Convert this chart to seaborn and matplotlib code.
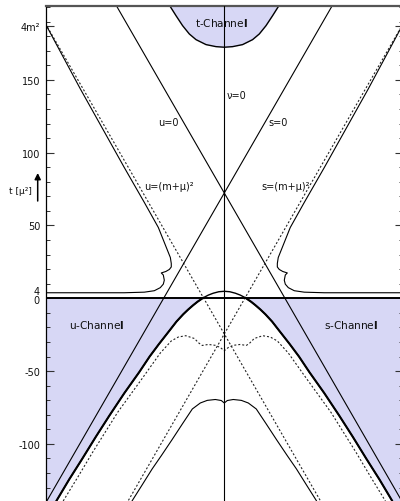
import numpy as np
import matplotlib
matplotlib.use("Agg")
import matplotlib.pyplot as plt
from matplotlib.patches import Rectangle
from matplotlib.ticker import MultipleLocator
import seaborn as sns

sns.set_theme(style="white")
plt.rcParams["font.family"] = ["DejaVu Sans"]
plt.rcParams["mathtext.fontset"] = "dejavusans"

# Mandelstam plane of pion-nucleon scattering: nu = s - u across, t upwards (in mu^2).
# The picture is symmetric under nu -> -nu (s <-> u), so curves are listed for nu >= 0.
NU_MAX = 212.5
T_MIN, T_MAX = -139.2, 200.5

# straight lines: u = 0 and u = (m+mu)^2 (s-lines are their mirror images)
u_zero_nu = [-128.2, 211.5]
u_zero_t = [200.5, -139.2]
u_thr_nu = [-225.0, 114.7]
u_thr_t = [200.5, -139.2]

# t-channel physical region boundary
tch_nu = [0, 9.9, 21.8, 33.7, 41.7, 49.7, 57.6, 64.6]
tch_t = [172.4, 172.8, 174.2, 177.6, 181.5, 187.2, 194.1, 200.5]

# s-channel physical region boundary
sch_nu = [0, 6.5, 13.1, 19.0, 25.0, 32.0, 37.0, 43.0, 49.0, 57.0, 65.5, 78.0, 89.0,
          101.5, 119.0, 137.0, 153.0, 169.5, 185.0, 200.2]
sch_t = [4.8, 4.5, 3.5, 2.2, 0.4, -2.4, -4.7, -7.7, -11.0, -16.0, -22.3, -31.5, -40.0,
         -50.8, -65.0, -80.6, -95.0, -110.4, -124.5, -139.2]

# dashed boundary below the s/u physical regions
dsh_nu = [0, 4.8, 10.7, 19.1, 26.2, 30.4, 35.7, 45.9, 54.8, 63.2, 76.3, 98.3, 127.1,
          157.0, 174.5, 192.0]
dsh_t = [-36.0, -33.8, -32.3, -31.7, -32.4, -30.7, -27.6, -25.7, -26.6, -29.3, -37.6, -55.4,
         -78.3, -105.8, -122.7, -139.2]

# lower spectral boundary
low_nu = [0, 3.6, 10.7, 20.3, 28.6, 38.1, 50.0, 62.5, 75.1, 86.0, 98.5, 110.0]
low_t = [-71.9, -70.2, -69.5, -70.1, -71.9, -76.0, -86.3, -97.3, -108.1, -117.2, -128.7, -139.2]

# upper spectral boundary (s-t double spectral region)
up_nu = [212.5, 171.6, 119.2, 95.3, 78.6, 69.1, 64.3, 63.2, 63.2, 65.5, 69.7, 75.1, 72.7, 71.5,
         72.7, 76.3, 83.4, 95.3, 119.2, 166.8, 212.5]
up_t = [187.7, 143.8, 89.8, 65.8, 48.6, 34.9, 28.0, 23.9, 21.5, 19.8, 18.4, 17.4, 16.0, 12.4,
        9.7, 7.3, 5.2, 4.2, 3.8, 3.8, 3.8]

tick_vals = [-100, -50, 50, 100, 150, 187.2]
tick_text = ["-100", "-50", "50", "100", "150", "4m²"]

FILL = "#d7d7f5"
INK = "black"

fig = plt.figure(figsize=(4.0, 5.02), dpi=100)
ax = fig.add_axes([46 / 400, 0.0, 356.6 / 400, (502 - 7.3) / 502])
ax.set_xlim(-NU_MAX, NU_MAX)
ax.set_ylim(T_MIN, T_MAX)


def both_sides(nu, t):
    nu = np.asarray(nu, float)
    t = np.asarray(t, float)
    return np.concatenate([-nu[::-1], nu[1:]]), np.concatenate([t[::-1], t[1:]])


def draw(nu, t, **kw):
    sns.lineplot(x=nu, y=t, sort=False, estimator=None, ax=ax, legend=False, **kw)


# shaded physical regions
tn, tt = both_sides(tch_nu, tch_t)
ax.fill_between(tn, tt, T_MAX, color=FILL, lw=0, zorder=0)
below = Rectangle((-NU_MAX, T_MIN), 2 * NU_MAX, -T_MIN, transform=ax.transData)
for sign in (1, -1):
    edge = sign * np.asarray(sch_nu)
    poly = ax.fill_betweenx(sch_t, edge, sign * NU_MAX, color=FILL, lw=0, zorder=0)
    poly.set_clip_path(below)

# reference lines t = 0 and nu = 0
ax.axhline(0, color=INK, lw=1.4, zorder=3)
ax.axvline(0, color=INK, lw=0.8, zorder=3)

thin = dict(color=INK, lw=0.8)
dash = dict(color="#222222", lw=0.8, linestyle=(0, (1.8, 1.8)))

for sign in (1, -1):
    draw(sign * np.asarray(u_zero_nu), u_zero_t, **thin)
    draw(sign * np.asarray(u_thr_nu), u_thr_t, **dash)
    draw(sign * np.asarray(up_nu), up_t, **thin)

draw(tn, tt, color=INK, lw=1.0)
sn, st = both_sides(sch_nu, sch_t)
draw(sn, st, color=INK, lw=1.0)
# heavier stroke where the curve bounds the shaded regions
for sign in (1, -1):
    m = np.asarray(sch_t) <= 0.4
    draw(sign * np.asarray(sch_nu)[m], np.asarray(sch_t)[m], color=INK, lw=1.5)
dn, dt = both_sides(dsh_nu, dsh_t)
draw(dn, dt, **dash)
ln, lt = both_sides(low_nu, low_t)
draw(ln, lt, **thin)

# labels
lab = dict(fontsize=7, color="#111111", ha="center", va="center", zorder=5)
ax.text(-67.1, 120.9, "u=0", **lab)
ax.text(64.0, 121.3, "s=0", **lab)
ax.text(14.8, 139.8, "ν=0", **lab)
ax.text(-65.9, 77.3, "u=(m+μ)²", **lab)
ax.text(72.9, 77.3, "s=(m+μ)²", **lab)

# channel names; their closing "l" is set heavier
chan = dict(fontsize=7.6, color="#111111", ha="center", va="center", zorder=5)
ax.text(-151.7, -17.7, r"u-Channe$\mathbf{l}$", **chan)
ax.text(151.6, -17.7, r"s-Channe$\mathbf{l}$", **chan)
ax.text(-3.9, 190.0, r"t-Channe$\mathbf{l}$", **chan)

# axes styling
for side in ("right", "bottom"):
    ax.spines[side].set_visible(False)
ax.spines["left"].set_color(INK)
ax.spines["left"].set_linewidth(0.9)
ax.spines["top"].set_color("#555555")
ax.spines["top"].set_linewidth(1.6)
ax.set_xticks([])
ax.set_yticks(tick_vals)
ax.set_yticklabels(tick_text)
ax.yaxis.set_minor_locator(MultipleLocator(10))
ax.tick_params(axis="y", which="both", direction="in", left=True, right=True,
               labelleft=True, labelright=False, colors="#333333", labelcolor="#111111")
ax.tick_params(axis="y", which="major", length=5.8, width=0.8, labelsize=7, pad=4)
ax.tick_params(axis="y", which="minor", length=3.0, width=0.7)
yt = ax.get_yaxis_transform()
ax.text(-0.017, 5.0, "4", transform=yt, ha="right", va="center", fontsize=7, color="#111111")
ax.text(-0.017, -1.3, "0", transform=yt, ha="right", va="center", fontsize=7, color="#111111")

fig.text(20.8 / 400, 1 - 191.7 / 502, "t [μ²]", ha="center", va="center", fontsize=6.5,
         color="#111111")
ax.annotate("", xy=(37.7 / 400, 1 - 174 / 502), xytext=(37.7 / 400, 1 - 202 / 502),
            xycoords="figure fraction", textcoords="figure fraction",
            arrowprops=dict(arrowstyle="-|>", color=INK, lw=1.1, mutation_scale=9,
                            shrinkA=0, shrinkB=0),
            annotation_clip=False)

fig.savefig("out.png", dpi=100)
